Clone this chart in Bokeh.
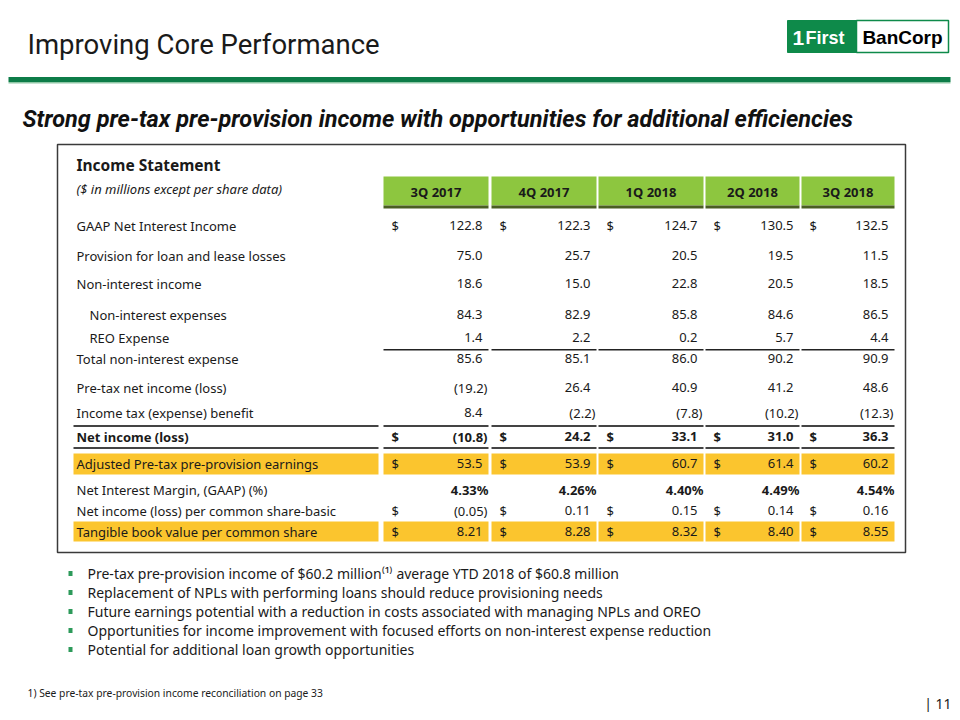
from bokeh.plotting import figure
from bokeh.models import Range1d, ColumnDataSource
from bokeh.core.properties import value
from bokeh.embed import file_html
from bokeh.resources import INLINE

# ---------------- data ----------------
quarters = ["3Q 2017", "4Q 2017", "1Q 2018", "2Q 2018", "3Q 2018"]

net_interest_income = [122.8, 122.3, 124.7, 130.5, 132.5]
provision = [75.0, 25.7, 20.5, 19.5, 11.5]
non_interest_income = [18.6, 15.0, 22.8, 20.5, 18.5]
non_interest_expenses = [84.3, 82.9, 85.8, 84.6, 86.5]
reo_expense = [1.4, 2.2, 0.2, 5.7, 4.4]
total_non_interest_expense = [85.6, 85.1, 86.0, 90.2, 90.9]
pretax_net_income = [-19.2, 26.4, 40.9, 41.2, 48.6]
income_tax = [8.4, -2.2, -7.8, -10.2, -12.3]
net_income = [-10.8, 24.2, 33.1, 31.0, 36.3]
adj_pretax_preprovision = [53.5, 53.9, 60.7, 61.4, 60.2]
net_interest_margin = [4.33, 4.26, 4.40, 4.49, 4.54]
eps_basic = [-0.05, 0.11, 0.15, 0.14, 0.16]
tangible_book_value = [8.21, 8.28, 8.32, 8.40, 8.55]

row_labels = [
    "GAAP Net Interest Income",
    "Provision for loan and lease losses",
    "Non-interest income",
    "Non-interest expenses",
    "REO Expense",
    "Total non-interest expense",
    "Pre-tax net income (loss)",
    "Income tax (expense) benefit",
    "Net income (loss)",
    "Adjusted Pre-tax pre-provision earnings",
    "Net Interest Margin, (GAAP) (%)",
    "Net income (loss) per common share-basic",
    "Tangible book value per common share",
]

bullets = [
    "Pre-tax pre-provision income of $60.2 million\u207d\u00b9\u207e average YTD 2018 of $60.8 million",
    "Replacement of NPLs with performing loans should reduce provisioning needs",
    "Future earnings potential with a reduction in costs associated with managing NPLs and OREO",
    "Opportunities for income improvement with focused efforts on non-interest expense reduction",
    "Potential for additional loan growth opportunities",
]

# ---------------- layout ----------------
FONT = "Noto Sans"
p = figure(width=952, height=712, x_range=Range1d(0, 952), y_range=Range1d(712, 0),
           output_backend="svg", toolbar_location=None, min_border=0)
p.axis.visible = False
p.grid.visible = False
p.outline_line_color = None
p.background_fill_color = "white"
p.border_fill_color = "white"


def txt(x, y, t, size, align="left", style="normal", color="#1a1a1a", font=FONT, baseline="middle"):
    src = ColumnDataSource(dict(x=list(x), y=list(y), t=list(t)))
    p.text(x="x", y="y", text="t", source=src, text_align=align, text_baseline=baseline,
           text_font=value(font), text_font_size=value(size), text_font_style=style,
           text_color=color)


# Title
txt([27], [44], ["Improving Core Performance"], "27.5px", font="Roboto", color="#1a1a1a")

# Logo
p.quad(left=[787], right=[856], top=[20], bottom=[52], fill_color="#0e8a4a", line_color="#0e8a4a")
p.quad(left=[856], right=[948], top=[20], bottom=[52], fill_color="white", line_color="#0e8a4a", line_width=1.5)
txt([792], [37], ["1"], "21px", style="bold", color="white", font="Liberation Sans")
txt([805], [37], ["First"], "18px", style="bold", color="white", font="Liberation Sans")
txt([902], [37], ["BanCorp"], "19px", align="center", style="bold", color="black", font="Liberation Sans")

# green rule
p.quad(left=[8], right=[950], top=[76.5], bottom=[81.5], fill_color="#0d7c48", line_color=None)
p.quad(left=[8], right=[950], top=[81.5], bottom=[83], fill_color="#8fc7a6", line_color=None)

# Subtitle
txt([22], [118], ["Strong pre-tax pre-provision income with opportunities for additional efficiencies"],
    "23.5px", style="bold italic", font="Roboto", color="#111111")

# table border
p.quad(left=[57], right=[905], top=[144], bottom=[552], fill_color=None, line_color="#3a3a3a", line_width=1.5)

txt([76], [164], ["Income Statement"], "15.5px", style="bold")
txt([76], [188], ["($ in millions except per share data)"], "13px", style="italic")

cols_left = [383, 491, 598, 705, 801]
cols_right = [488, 596, 703, 799, 894]
lab_left, lab_right = 73, 378

# header cells
p.quad(left=cols_left, right=cols_right, top=[176] * 5, bottom=[205] * 5,
       fill_color="#8dc63f", line_color=None)
p.quad(left=cols_left, right=cols_right, top=[205] * 5, bottom=[208] * 5,
       fill_color="#4a5e22", line_color=None)
txt([(a + b) / 2 for a, b in zip(cols_left, cols_right)], [191] * 5, quarters, "13px",
    align="center", style="bold")

# highlight bars (yellow)
YEL = "#fbc52e"
for top, bot in [(453, 474), (521, 541)]:
    p.quad(left=[lab_left] + cols_left, right=[lab_right] + cols_right,
           top=[top] * 6, bottom=[bot] * 6, fill_color=YEL, line_color=None)

# rule lines
p.quad(left=cols_left, right=cols_right, top=[348.5] * 5, bottom=[350] * 5, fill_color="#222222", line_color=None)
for yy in (424.5, 446.5):
    p.quad(left=[lab_left] + cols_left, right=[lab_right] + cols_right,
           top=[yy] * 6, bottom=[yy + 2] * 6, fill_color="#444444", line_color=None)

# rows
rows = [
    # label idx, values, decimals, dollar, bold, indent, y, pct
    (0, net_interest_income, 1, True, False, 0, 225, False),
    (1, provision, 1, False, False, 0, 255, False),
    (2, non_interest_income, 1, False, False, 0, 283, False),
    (3, non_interest_expenses, 1, False, False, 13, 314, False),
    (4, reo_expense, 1, False, False, 13, 337, False),
    (5, total_non_interest_expense, 1, False, False, 0, 358, False),
    (6, pretax_net_income, 1, False, False, 0, 387, False),
    (7, income_tax, 1, False, False, 0, 412, False),
    (8, net_income, 1, True, True, 0, 436, False),
    (9, adj_pretax_preprovision, 1, True, False, 0, 463, False),
    (10, net_interest_margin, 2, False, False, 0, 489, True),
    (11, eps_basic, 2, True, False, 0, 510, False),
    (12, tangible_book_value, 2, True, False, 0, 531, False),
]

SIZE = "13px"
for li, vals, dec, dollar, bold, indent, y, pct in rows:
    style = "bold" if bold else "normal"
    txt([76 + indent], [y], [row_labels[li]], SIZE, style=style)
    pos_x, pos_t, neg_x, neg_t = [], [], [], []
    for v, r in zip(vals, cols_right):
        s = f"{abs(v):.{dec}f}"
        if pct:
            pos_x.append(r)
            pos_t.append(s + "%")
        elif v < 0:
            neg_x.append(r - 1)
            neg_t.append("(" + s + ")")
        else:
            pos_x.append(r - 6)
            pos_t.append(s)
    vstyle = "bold" if (bold or pct) else "normal"
    if pos_x:
        txt(pos_x, [y] * len(pos_x), pos_t, SIZE, align="right", style=vstyle)
    if neg_x:
        txt(neg_x, [y] * len(neg_x), neg_t, SIZE, align="right", style=vstyle)
    if dollar:
        txt([l + 8 for l in cols_left], [y] * 5, ["$"] * 5, SIZE, style=vstyle)

# bullets
BSIZE = "14px"
by = [573, 592, 611, 630, 649]
p.rect(x=[70] * 5, y=by, width=4, height=5, fill_color="#2d9a5a", line_color=None)
txt([87] * 5, by, bullets, BSIZE)

# footnote and page number
txt([27], [692], ["1) See pre-tax pre-provision income reconciliation on page 33"], "10.3px")
txt([951], [703], ["| 11"], "14px", align="right")

open("out.html", "w").write(file_html(p, INLINE))
